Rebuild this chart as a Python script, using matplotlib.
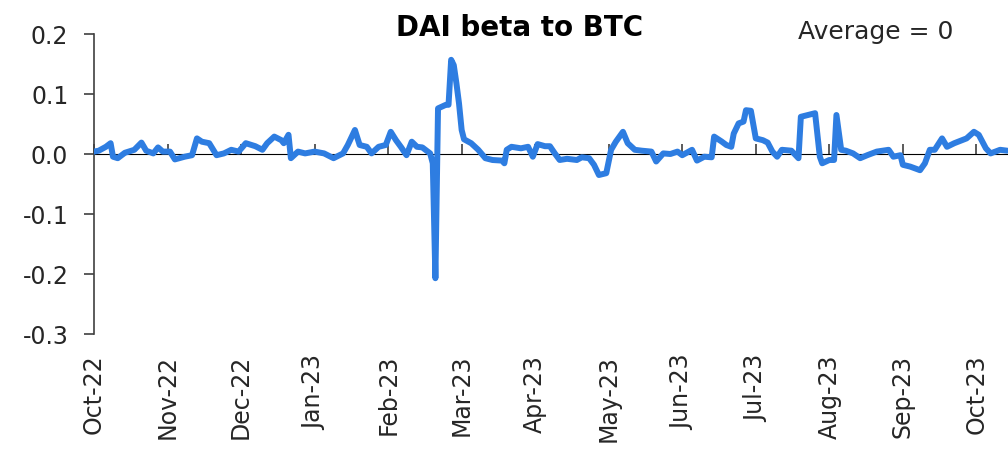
import calendar
import matplotlib
matplotlib.use("Agg")
import matplotlib.pyplot as plt
import pandas as pd

plt.rcParams['font.family'] = ['DejaVu Sans']

start_date = "2022-10-01"
# days since start date
day_offsets = [0, 2, 5, 7, 8, 10, 13, 17, 20, 22, 25, 27, 29, 32, 34, 38, 41, 43, 45, 48,
               51, 54, 57, 60, 63, 67, 70, 72, 75, 78, 79, 81, 82, 85, 88, 92, 96, 100, 104, 106,
               109, 111, 114, 116, 119, 122, 124, 126, 128, 130, 132, 134, 136, 139, 140, 141, 142, 145, 146, 147,
               148, 149, 150, 151, 152, 155, 158, 161, 164, 168, 169, 170, 172, 176, 179, 181, 183, 186, 188, 190,
               192, 195, 199, 201, 204, 206, 208, 211, 213, 215, 218, 220, 223, 226, 230, 232, 235, 238, 241, 243,
               247, 249, 252, 255, 256, 259, 261, 263, 264, 266, 268, 269, 271, 273, 276, 278, 280, 282, 284, 288,
               291, 292, 295, 298, 300, 301, 304, 306, 307, 309, 311, 314, 317, 320, 324, 329, 331, 334, 335, 338,
               342, 344, 346, 348, 351, 353, 356, 361, 364, 366, 369, 371, 375, 378]
beta = [0.004, 0.0055, 0.012, 0.018, -0.0045, -0.007, 0.002, 0.007, 0.019, 0.0055, 0.001, 0.011, 0.004, 0.004, -0.009, -0.0045, -0.002, 0.026, 0.0205, 0.018,
        -0.002, 0.001, 0.007, 0.004, 0.018, 0.013, 0.007, 0.018, 0.029, 0.023, 0.018, 0.032, -0.007, 0.004, 0.001, 0.004, 0.001, -0.007, 0.001, 0.015,
        0.04, 0.015, 0.012, 0.001, 0.012, 0.015, 0.037, 0.023, 0.011, -0.002, 0.0205, 0.012, 0.011, 0.001, -0.0155, -0.207, 0.076, 0.082, 0.082, 0.157,
        0.148, 0.118, 0.084, 0.04, 0.0245, 0.018, 0.007, -0.007, -0.01, -0.011, -0.0155, 0.007, 0.012, 0.0095, 0.012, -0.0045, 0.0165, 0.013, 0.013, 0.001,
        -0.01, -0.008, -0.01, -0.0055, -0.007, -0.018, -0.035, -0.032, 0.007, 0.0205, 0.037, 0.018, 0.007, 0.0055, 0.004, -0.0125, 0.001, 0.0, 0.004, -0.002,
        0.007, -0.011, -0.0045, -0.0055, 0.029, 0.021, 0.015, 0.012, 0.034, 0.051, 0.054, 0.073, 0.072, 0.026, 0.023, 0.019, 0.004, -0.0045, 0.007, 0.0055,
        -0.007, 0.062, 0.065, 0.068, -0.0045, -0.0155, -0.01, -0.01, 0.065, 0.007, 0.0055, 0.001, -0.007, -0.002, 0.004, 0.007, -0.0045, -0.002, -0.018, -0.021,
        -0.027, -0.0155, 0.007, 0.007, 0.026, 0.012, 0.018, 0.026, 0.037, 0.032, 0.0095, 0.001, 0.007, 0.0055]

tick_labels = ["Oct-22", "Nov-22", "Dec-22", "Jan-23", "Feb-23", "Mar-23", "Apr-23",
               "May-23", "Jun-23", "Jul-23", "Aug-23", "Sep-23", "Oct-23"]
y_ticks = [-0.3, -0.2, -0.1, 0.0, 0.1, 0.2]
title = "DAI beta to BTC"
note = "Average = 0"

dates = pd.to_datetime(start_date) + pd.to_timedelta(day_offsets, unit="D")
base = pd.to_datetime(start_date)


def month_pos(d):
    return (d.year - base.year) * 12 + (d.month - base.month) + (d.day - 1) / calendar.monthrange(d.year, d.month)[1]


x = [month_pos(d) for d in dates]

W, H = 1008, 453
fig = plt.figure(figsize=(W / 100, H / 100), dpi=100)
ax = fig.add_axes([94 / W, 1 - 334 / H, (1008 - 94) / W, 300 / H])

line_color = "#2E7DE1"
axis_color = "#404040"
text_color = "#262626"

ax.plot(x, beta, color=line_color, lw=4.3, solid_joinstyle="round", solid_capstyle="round", zorder=3)

ax.set_ylim(-0.3, 0.2)
ax.set_xlim(0, 12.43)
ax.set_yticks(y_ticks)
ax.set_yticklabels([f"{v:.1f}" for v in y_ticks])

for s in ["top", "right", "bottom"]:
    ax.spines[s].set_visible(False)
ax.spines["left"].set_color(axis_color)
ax.spines["left"].set_linewidth(1.2)
ax.tick_params(axis="y", direction="out", length=7.5, width=1.2, color=axis_color,
               labelsize=17, labelcolor=text_color, pad=11)

ax.set_xticks(range(len(tick_labels)))
ax.set_xticklabels(tick_labels, rotation=90, ha="center", va="top")
ax.tick_params(axis="x", length=0, labelsize=17, labelcolor=text_color, pad=15)

# zero axis line with tick marks
sec = ax.secondary_xaxis(0.6)
sec.set_xticks(range(len(tick_labels)))
sec.set_xticklabels([])
sec.spines["bottom"].set_color(axis_color)
sec.spines["bottom"].set_linewidth(1.2)
sec.tick_params(axis="x", direction="out", length=7.5, width=1.2, color=axis_color)

fig.text(520 / W, 1 - 28 / H, title, ha="center", va="center", fontsize=20,
         fontweight="bold", color="black")
fig.text(876 / W, 1 - 32 / H, note, ha="center", va="center", fontsize=18, color=text_color)

fig.savefig("out.png", dpi=100)
